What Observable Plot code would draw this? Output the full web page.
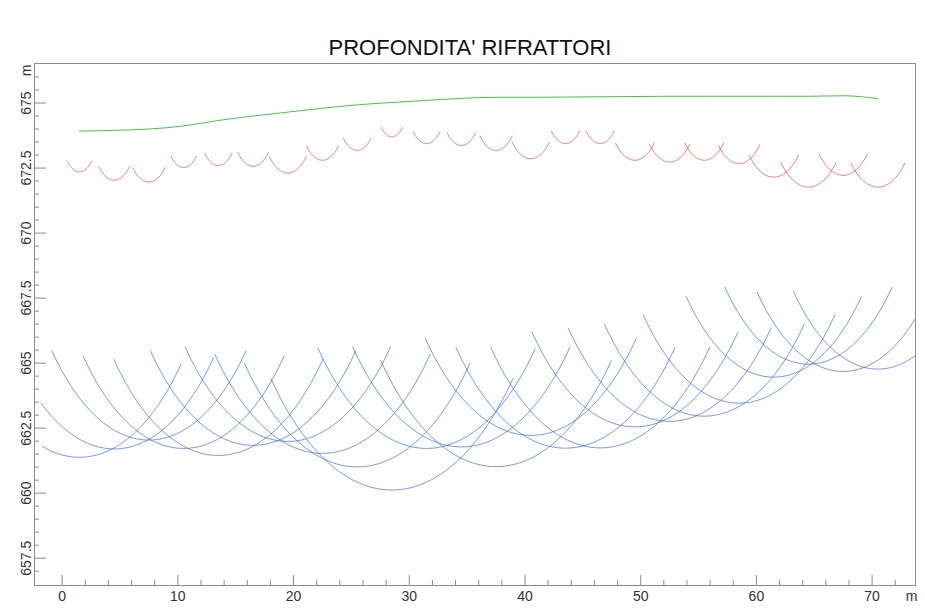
<!DOCTYPE html>
<html><head><meta charset="utf-8">
<script src="https://cdn.jsdelivr.net/npm/d3@7"></script>
<script src="https://cdn.jsdelivr.net/npm/@observablehq/plot@0.6"></script>
<style>
body{margin:0;background:#fff;font-family:"Liberation Sans",Arial,sans-serif;}
#title{height:60px;box-sizing:border-box;padding-top:37px;padding-left:15px;width:925px;text-align:center;font-size:22px;line-height:22px;color:#111;white-space:nowrap;}
#chart svg{display:block;}
</style></head><body>
<div id="title">PROFONDITA' RIFRATTORI</div>
<div id="chart"></div>
<script>
// Geophone positions (m) along the line
const geophoneX = [1.5, 4.5, 7.5, 10.5, 13.5, 16.5, 19.5, 22.5, 25.5, 28.5, 31.5, 34.5,
                   37.5, 40.5, 43.5, 46.5, 49.5, 52.5, 55.5, 58.5, 61.5, 64.5, 67.5, 70.5];
// Ground surface elevation at each geophone (green)
const surfaceElev = [673.92, 673.95, 674.0, 674.12, 674.33, 674.5, 674.65, 674.8, 674.93, 675.02, 675.1, 675.18,
                     675.22, 675.22, 675.23, 675.24, 675.25, 675.26, 675.26, 675.26, 675.26, 675.26, 675.28, 675.17];
// Depth to first refractor under each geophone (red arcs radius, m)
const refractor1Depth = [1.57, 1.92, 2.04, 1.6, 1.73, 1.93, 2.34, 2.0, 1.75, 1.32, 1.66, 1.81,
                         2.04, 2.36, 1.79, 1.8, 2.45, 2.53, 2.46, 2.59, 3.11, 3.49, 3.06, 3.4];
// Depth to second refractor under each geophone (blue arcs radius, m)
const refractor2Depth = [12.54, 12.25, 11.96, 12.4, 12.88, 12.66, 12.66, 13.27, 13.92, 14.9, 13.38, 13.4,
                         14.2, 13.0, 13.5, 13.5, 12.7, 12.5, 12.3, 11.8, 10.8, 10.3, 10.6, 10.4];
// Half aperture of the arcs (degrees from vertical)
const halfAngle1 = 43;
const halfAngle2 = 44.5;
const arcXMin = -2.0;

// Axis ticks
const xMajor = [0, 10, 20, 30, 40, 50, 60, 70];
const xMinor = [2, 4, 6, 8, 12, 14, 16, 18, 22, 24, 26, 28, 32, 34, 36, 38, 42, 44, 46, 48, 52, 54, 56, 58, 62, 64, 66, 68, 72];
const yMajor = [657.5, 660, 662.5, 665, 667.5, 670, 672.5, 675];
const yMinor = [657, 658, 658.5, 659, 659.5, 660.5, 661, 661.5, 662, 663, 663.5, 664, 664.5, 665.5, 666, 666.5, 667,
                668, 668.5, 669, 669.5, 670.5, 671, 671.5, 672, 673, 673.5, 674, 674.5, 675.5, 676];
const xDomain = [-2.39, 73.75];
const yDomain = [656.45, 676.52];

function arcPoints(depths, halfDeg) {
  const pts = [];
  const th = halfDeg * Math.PI / 180;
  const n = 60;
  geophoneX.forEach((xc, i) => {
    const r = depths[i], s = surfaceElev[i];
    for (let k = 0; k <= n; k++) {
      const phi = -th + 2 * th * k / n;
      const x = xc + r * Math.sin(phi);
      if (x < arcXMin) continue;
      pts.push({id: i, x, y: s - r * Math.cos(phi)});
    }
  });
  return pts;
}
const arcs1 = arcPoints(refractor1Depth, halfAngle1);
const arcs2 = arcPoints(refractor2Depth, halfAngle2);
const surface = geophoneX.map((x, i) => ({x, y: surfaceElev[i]}));

const W = 925, H = 548, mL = 34, mR = 10, mT = 3, mB = 23;
const fw = W - mL - mR, fh = H - mT - mB;
const axisColor = "#8a8a8a", labelColor = "#333";

const chart = Plot.plot({
  width: W, height: H,
  marginLeft: mL, marginRight: mR, marginTop: mT, marginBottom: mB,
  x: {domain: xDomain, axis: null},
  y: {domain: yDomain, axis: null},
  style: {fontFamily: "'Liberation Sans', Arial, sans-serif", background: "#fff"},
  marks: [
    Plot.line(arcs2, {x: "x", y: "y", z: "id", stroke: "#3d66d6", strokeWidth: 0.85, strokeOpacity: 0.8, clip: true}),
    Plot.line(arcs1, {x: "x", y: "y", z: "id", stroke: "#e63a3a", strokeWidth: 0.85, strokeOpacity: 0.8, clip: true}),
    Plot.line(surface, {x: "x", y: "y", stroke: "#2fc02f", strokeWidth: 0.9, curve: "monotone-x"}),
    Plot.frame({stroke: axisColor}),
    Plot.tickY(yMajor, {y: d => d, stroke: axisColor, insetRight: fw - 12}),
    Plot.tickY(yMinor, {y: d => d, stroke: axisColor, insetRight: fw - 5}),
    Plot.tickX(xMajor, {x: d => d, stroke: axisColor, insetTop: fh - 10}),
    Plot.tickX(xMinor, {x: d => d, stroke: axisColor, insetTop: fh - 5}),
    Plot.text(yMajor, {y: d => d, text: d => String(d), frameAnchor: "left", rotate: -90, dx: -4,
      lineAnchor: "bottom", textAnchor: "middle", fontSize: 14, fill: labelColor}),
    Plot.text(xMajor, {x: d => d, text: d => String(d), frameAnchor: "bottom", lineAnchor: "top", dy: 6,
      fontSize: 14, fill: labelColor}),
    Plot.text(["m"], {frameAnchor: "top-left", rotate: -90, dx: -4, dy: 7, lineAnchor: "bottom",
      textAnchor: "middle", fontSize: 14, fill: labelColor}),
    Plot.text(["m"], {frameAnchor: "bottom-right", dx: -4, dy: 6, lineAnchor: "top", textAnchor: "middle",
      fontSize: 14, fill: labelColor})
  ]
});
document.getElementById("chart").appendChild(chart);
</script>
</body></html>
